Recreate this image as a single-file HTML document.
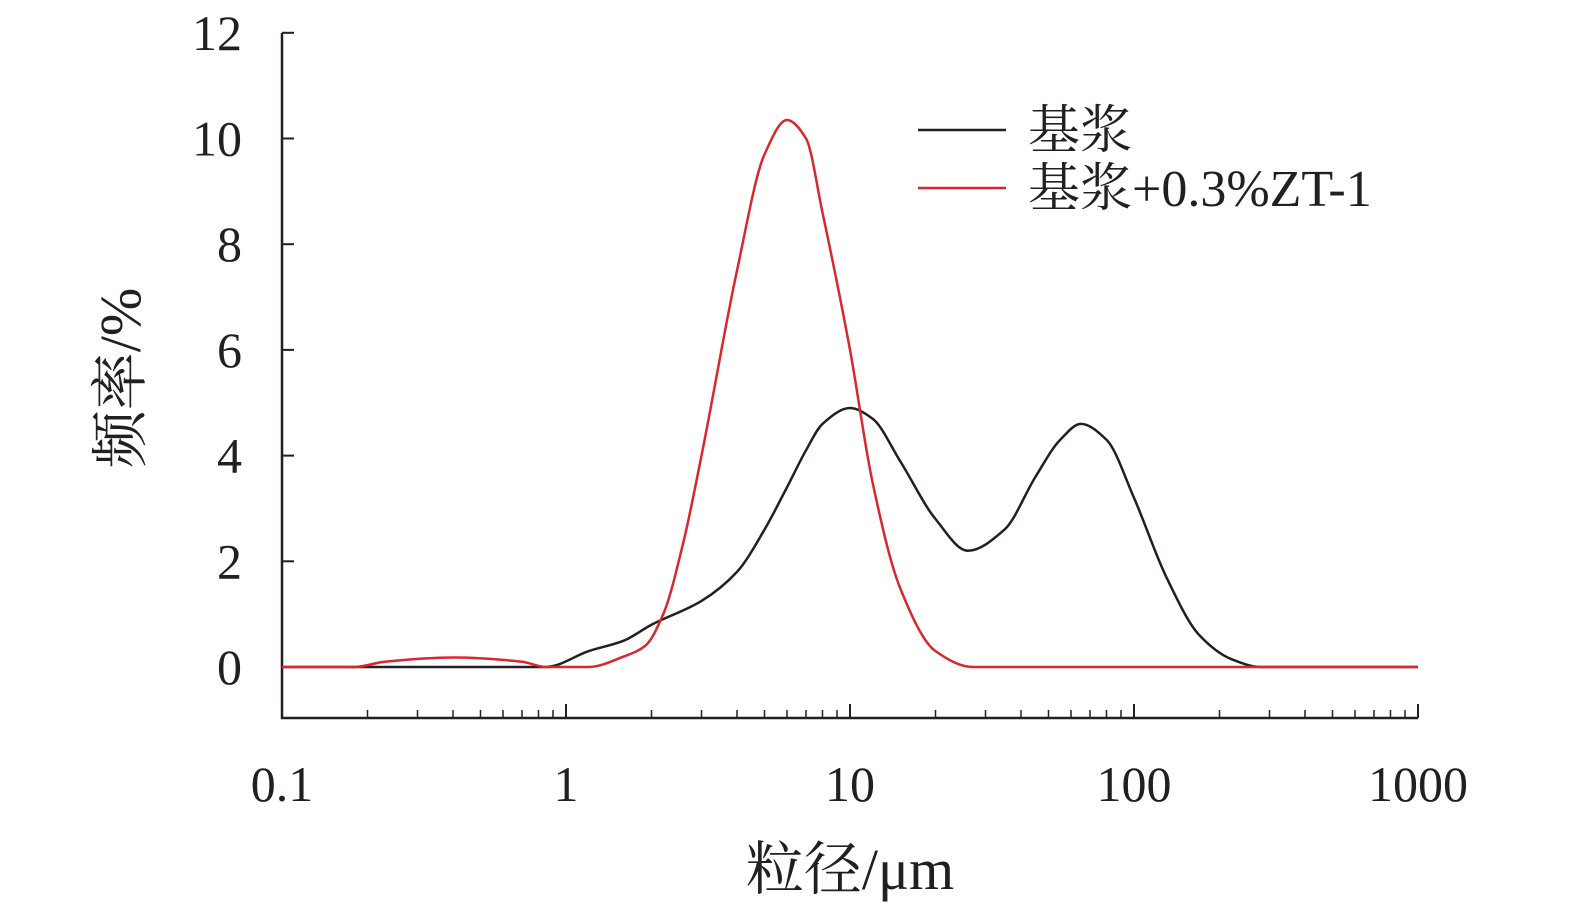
<!DOCTYPE html>
<html><head><meta charset="utf-8"><style>
body{margin:0;background:#fff}
svg text{font-family:"Liberation Serif","Noto Serif CJK SC",serif;fill:#231f20}
</style></head><body>
<svg width="1575" height="910" viewBox="0 0 1575 910">
<g id="axes"></g><g id="series"></g>
<g>
<line x1="918" y1="130" x2="1006" y2="130" stroke="#231f20" stroke-width="2.5"/>
<text x="1028" y="148" font-size="52">基浆</text>
<line x1="918" y1="188" x2="1006" y2="188" stroke="#d7282f" stroke-width="2.5"/>
<text x="1028" y="206" font-size="52">基浆+0.3%ZT-1</text>
</g>
<text x="850" y="889" font-size="58" text-anchor="middle">粒径/μm</text>
<text transform="translate(140,378) rotate(-90)" font-size="58" text-anchor="middle">频率/%</text>
</svg>
<script>
const xTicks=[0.1,1,10,100,1000];
const xTickLabels=["0.1","1","10","100","1000"];
const yTicks=[0,2,4,6,8,10,12];
const baseX=[0.1,0.85,1.2,1.6,2,3,4,5,6,7,8,10,12,15,20,26,35,45,55,65,80,100,130,170,220,280,1000];
const baseY=[0,0,0.3,0.5,0.8,1.25,1.8,2.6,3.4,4.1,4.6,4.9,4.7,3.9,2.8,2.2,2.6,3.6,4.3,4.6,4.3,3.2,1.7,0.6,0.15,0,0];
const ztX=[0.1,0.18,0.23,0.4,0.7,0.85,1.2,1.6,1.9,2.2,2.6,3,4,5,6,7,8,10,12,15,20,27,1000];
const ztY=[0,0,0.1,0.18,0.1,0,0,0.2,0.4,1.0,2.4,4.0,7.5,9.7,10.35,10.0,8.6,6.0,3.5,1.5,0.3,0,0];
const NS="http://www.w3.org/2000/svg";
const X=v=>282+284*Math.log10(v/0.1);
const Y=v=>667-v*52.85;
function mk(t,a,p){const e=document.createElementNS(NS,t);for(const k in a)e.setAttribute(k,a[k]);p.appendChild(e);return e;}
const ax=document.getElementById('axes');
const yAxis=mk('path',{d:`M282,33 V718 H1418`,fill:'none',stroke:'#231f20','stroke-width':2.5},ax);


yTicks.forEach(v=>{
 const t=mk('line',{x1:282,x2:294,y1:Y(v),y2:Y(v),stroke:'#231f20','stroke-width':2},ax);
 
 
 const l=mk('text',{x:242,y:Y(v)+17,'font-size':50,'text-anchor':'end'},ax);l.textContent=v;
 
 
});
for(let d=0;d<4;d++)for(let m=2;m<=9;m++){
 const v=xTicks[d]*m;
 const t=mk('line',{x1:X(v),x2:X(v),y1:718,y2:710,stroke:'#231f20','stroke-width':1.5},ax);
 
 
}
xTicks.forEach((v,i)=>{
 const t=mk('line',{x1:X(v),x2:X(v),y1:718,y2:704,stroke:'#231f20','stroke-width':2},ax);
 
 
 const l=mk('text',{x:X(v),y:801,'font-size':50,'text-anchor':'middle'},ax);l.textContent=xTickLabels[i];
 
 
});
function path(xs,ys){
 const px=xs.map(X),py=ys.map(Y),n=px.length;
 const dl=[],m=new Array(n);
 for(let i=0;i<n-1;i++)dl.push((py[i+1]-py[i])/(px[i+1]-px[i]));
 m[0]=dl[0];m[n-1]=dl[n-2];
 for(let i=1;i<n-1;i++){
  if(dl[i-1]*dl[i]<=0)m[i]=0;
  else{const h0=px[i]-px[i-1],h1=px[i+1]-px[i];const w1=2*h1+h0,w2=h1+2*h0;m[i]=(w1+w2)/(w1/dl[i-1]+w2/dl[i]);}
 }
 let d=`M${px[0]},${py[0]}`;
 for(let i=0;i<n-1;i++){
  const h=(px[i+1]-px[i])/3;
  d+=` C${px[i]+h},${py[i]+m[i]*h} ${px[i+1]-h},${py[i+1]-m[i+1]*h} ${px[i+1]},${py[i+1]}`;
 }
 return d;
}
const sg=document.getElementById('series');
const b=mk('path',{d:path(baseX,baseY),fill:'none',stroke:'#231f20','stroke-width':2.5},sg);


const r=mk('path',{d:path(ztX,ztY),fill:'none',stroke:'#d7282f','stroke-width':2.5},sg);


</script>
</body></html>
